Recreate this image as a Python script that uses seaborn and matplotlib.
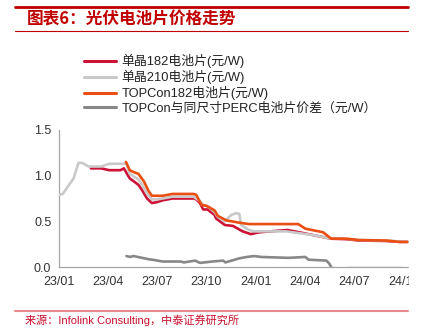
import pandas as pd
import numpy as np
import matplotlib
matplotlib.use("Agg")
import matplotlib.pyplot as plt
import matplotlib.dates as mdates
from matplotlib.lines import Line2D
from matplotlib.patches import Rectangle
import seaborn as sns

# ---- data ----
mono182_dates = ["2023-03-01", "2023-03-20", "2023-04-04", "2023-04-25", "2023-05-01", "2023-05-12",
                 "2023-05-19", "2023-05-28", "2023-06-04", "2023-06-13", "2023-06-22", "2023-07-01",
                 "2023-07-12", "2023-07-30", "2023-09-07", "2023-09-12", "2023-09-19", "2023-09-25",
                 "2023-10-03", "2023-10-16", "2023-10-19", "2023-11-04", "2023-11-19", "2023-12-07",
                 "2023-12-22", "2024-01-07", "2024-02-28", "2024-03-21", "2024-04-15", "2024-05-19",
                 "2024-06-15", "2024-07-10", "2024-08-28", "2024-09-23", "2024-10-07"]
mono182_vals = [1.08, 1.08, 1.06, 1.06, 1.08, 0.97,
                0.94, 0.90, 0.84, 0.75, 0.70, 0.71,
                0.73, 0.75, 0.75, 0.74, 0.70, 0.63,
                0.63, 0.57, 0.53, 0.46, 0.45, 0.39,
                0.36, 0.38, 0.405, 0.38, 0.35, 0.31,
                0.305, 0.29, 0.285, 0.275, 0.275]

mono210_dates = ["2023-01-01", "2023-01-08", "2023-01-28", "2023-02-06", "2023-02-13", "2023-02-25",
                 "2023-03-20", "2023-04-04", "2023-05-06", "2023-05-12", "2023-05-28", "2023-06-04",
                 "2023-06-13", "2023-06-22", "2023-07-01", "2023-07-12", "2023-07-30", "2023-09-07",
                 "2023-09-19", "2023-09-25", "2023-10-05", "2023-10-16", "2023-10-22", "2023-11-04",
                 "2023-11-16", "2023-11-25", "2023-12-01", "2023-12-04", "2023-12-19", "2023-12-28",
                 "2024-01-15", "2024-02-26", "2024-03-21", "2024-04-15", "2024-05-19", "2024-06-15",
                 "2024-07-10", "2024-08-28", "2024-09-23", "2024-10-07"]
mono210_vals = [0.79, 0.80, 0.97, 1.14, 1.14, 1.10,
                1.10, 1.13, 1.13, 1.02, 0.96, 0.90,
                0.80, 0.74, 0.74, 0.75, 0.77, 0.77,
                0.72, 0.68, 0.66, 0.60, 0.55, 0.50,
                0.57, 0.59, 0.58, 0.46, 0.405, 0.39,
                0.39, 0.39, 0.37, 0.35, 0.31, 0.31,
                0.295, 0.29, 0.28, 0.28]

topcon_dates = ["2023-05-05", "2023-05-12", "2023-05-19", "2023-05-28", "2023-06-07", "2023-06-16",
                "2023-06-22", "2023-07-12", "2023-07-30", "2023-09-07", "2023-09-12", "2023-09-22",
                "2023-10-01", "2023-10-16", "2023-10-22", "2023-11-07", "2023-12-01", "2023-12-19",
                "2024-03-19", "2024-04-01", "2024-05-04", "2024-05-19", "2024-06-15", "2024-07-10",
                "2024-08-28", "2024-09-23", "2024-10-07"]
topcon_vals = [1.15, 1.06, 1.04, 1.02, 0.94, 0.83,
               0.78, 0.78, 0.80, 0.80, 0.79, 0.68,
               0.67, 0.62, 0.56, 0.51, 0.485, 0.47,
               0.47, 0.42, 0.38, 0.31, 0.31, 0.295,
               0.29, 0.275, 0.275]

diff_dates = ["2023-05-06", "2023-05-12", "2023-05-19", "2023-06-04", "2023-06-16", "2023-06-28",
              "2023-07-12", "2023-08-15", "2023-08-20", "2023-09-10", "2023-09-19", "2023-10-12",
              "2023-11-01", "2023-11-05", "2023-12-01", "2023-12-15", "2023-12-28", "2024-01-10",
              "2024-03-01", "2024-04-01", "2024-04-07", "2024-05-10", "2024-05-15", "2024-05-19"]
diff_vals = [0.12, 0.11, 0.12, 0.10, 0.085, 0.075,
             0.06, 0.06, 0.05, 0.07, 0.045, 0.06,
             0.07, 0.05, 0.095, 0.11, 0.12, 0.11,
             0.10, 0.11, 0.08, 0.07, 0.04, 0.0]
diff2_dates = ["2024-06-18", "2024-09-25"]
diff2_vals = [0.005, 0.005]

labels = ["单晶182电池片(元/W)", "单晶210电池片(元/W)", "TOPCon182电池片(元/W)",
          "TOPCon与同尺寸PERC电池片价差（元/W）"]
tick_dates = ["2023-01-01", "2023-04-01", "2023-07-01", "2023-10-01",
              "2024-01-01", "2024-04-01", "2024-07-01", "2024-10-01"]
tick_labels = ["23/01", "23/04", "23/07", "23/10", "24/01", "24/04", "24/07", "24/10"]
y_ticks = [0.0, 0.5, 1.0, 1.5]

colors = ["#CC1236", "#C9C9C9", "#EA4E12", "#888888"]

# ---- style ----
sns.set_theme(style="white")
plt.rcParams["font.family"] = ["Liberation Sans", "Noto Sans CJK SC", "DejaVu Sans"]

fig = plt.figure(figsize=(4.27, 3.35), dpi=100)
W, H = 427, 335
ax = fig.add_axes([59 / W, 1 - 267 / H, (409 - 59) / W, (267 - 130) / H])

def df(d, v):
    return pd.DataFrame({"date": pd.to_datetime(d), "val": v})

lw = 1.9
sns.lineplot(data=df(diff_dates, diff_vals), x="date", y="val", ax=ax, color=colors[3], lw=lw, zorder=2)
sns.lineplot(data=df(diff2_dates, diff2_vals), x="date", y="val", ax=ax, color="#AAAAAA", lw=1.0, zorder=2)
sns.lineplot(data=df(mono182_dates, mono182_vals), x="date", y="val", ax=ax, color=colors[0], lw=lw, zorder=3)
sns.lineplot(data=df(mono210_dates, mono210_vals), x="date", y="val", ax=ax, color=colors[1], lw=lw, zorder=4)
sns.lineplot(data=df(topcon_dates, topcon_vals), x="date", y="val", ax=ax, color=colors[2], lw=lw, zorder=5)

ax.set_xlim(pd.Timestamp("2023-01-01"), pd.Timestamp("2024-10-10"))
ax.set_ylim(0, 1.5)
ax.set_xticks(pd.to_datetime(tick_dates))
ax.set_xticklabels(tick_labels)
ax.set_yticks(y_ticks)
ax.set_yticklabels([f"{v:.1f}" for v in y_ticks])
ax.set_xlabel("")
ax.set_ylabel("")
for s in ["top", "right"]:
    ax.spines[s].set_visible(False)
for s in ["left", "bottom"]:
    ax.spines[s].set_color("#A6A6A6")
    ax.spines[s].set_linewidth(0.9)
ax.tick_params(axis="both", direction="out", length=3.5, width=0.9, color="#A6A6A6",
               labelsize=9, labelcolor="#333333", pad=2)
ax.tick_params(axis="x", pad=3)

# legend
handles = [Line2D([0], [0], color=c, lw=2.2) for c in colors]
fig.legend(handles, labels, loc="upper left", bbox_to_anchor=(84 / W, 1 - 54 / H),
           frameon=False, fontsize=9.3, handlelength=2.5, handletextpad=0.4,
           labelspacing=0.15, borderaxespad=0, borderpad=0, labelcolor="#222222")

# header / footer decoration
fig.add_artist(Line2D([15 / W, 408 / W], [1 - 7 / H, 1 - 7 / H], color="#C00000", lw=2.0))
fig.add_artist(Line2D([15 / W, 408 / W], [1 - 31 / H, 1 - 31 / H], color="#C00000", lw=0.8))
fig.text(27 / W, 1 - 19 / H, "图表6：光伏电池片价格走势", color="#C00000", fontsize=12,
         fontweight="bold", va="center", ha="left",
         family=["Noto Sans CJK SC", "DejaVu Sans"])
fig.add_artist(Line2D([15 / W, 408 / W], [1 - 311 / H, 1 - 311 / H], color="#E58A8A", lw=1.5))
fig.text(25 / W, 1 - 320 / H, "来源：Infolink Consulting，中泰证券研究所", color="#C8102E",
         fontsize=8, va="center", ha="left")

# clip anything beyond right edge of chart area
fig.add_artist(Rectangle((409.5 / W, 40 / H), (W - 409.5) / W, 250 / H,
                         transform=fig.transFigure, color="white", zorder=10))

fig.savefig("out.png", dpi=100)
